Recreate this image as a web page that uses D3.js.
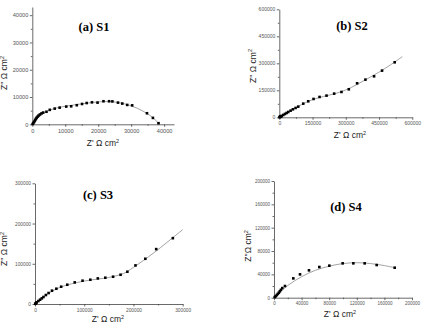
<!DOCTYPE html>
<html>
<head>
<meta charset="utf-8">
<script src="https://cdn.jsdelivr.net/npm/d3@7"></script>
<style>
  body { margin: 0; background: #fff; }
  svg { display: block; }
  .domain, .tick line { stroke: #444; stroke-width: 0.8; }
  .tick text { fill: #555; font-family: "Liberation Sans", Arial, sans-serif; }
  .ttl { font-family: "Liberation Serif", "Times New Roman", serif; font-weight: bold; fill: #000; }
  .lab { font-family: "Liberation Sans", Arial, sans-serif; fill: #222; }
</style>
</head>
<body>
<svg id="chart" width="424" height="324"></svg>
<script>
// ---- data ----
// (a) S1
var s1Points = [[100,100],[300,400],[500,800],[700,1200],[900,1600],[1100,2000],[1300,2400],[1600,2800],[1900,3200],[2300,3600],[2800,4000],[3300,4300],
  [4300,4600],[5300,5300],[6800,5750],[8300,6100],[10300,6500],[11800,6600],[13500,7000],[15100,7450],[16500,7800],[18100,8050],[19800,7950],
  [21600,8450],[23300,8450],[24300,8400],[26000,7950],[27300,7600],[28800,7100],[30300,6950],[34800,4050],[36600,2350],[38300,400]];
var s1Fit = [[0,0],[2000,2600],[4000,4500],[7000,5900],[10000,6600],[15000,7500],[20000,8200],[24000,8300],[28000,7500],[32000,5800],[35000,3800],[37000,2000],[38500,0]];
var s1Ticks = [0,10000,20000,30000,40000];

// (b) S2
var s2Points = [[1000,800],[2500,1800],[4000,3000],[5500,4000],[7000,5200],[8500,6300],[10500,7400],[18000,13000],[25500,18500],[33000,24000],
  [40500,29600],[51000,37000],[61500,44400],[73500,51900],[85500,59300],[108000,75900],[130500,88900],[154500,101900],[181500,113000],
  [213000,120400],[247500,131500],[280500,140700],[313500,155600],[351000,188900],[388500,209300],[427500,227800],[463500,259300],[520500,305600]];
var s2Fit = [[0,0],[50000,37000],[100000,70000],[150000,98000],[200000,116000],[250000,131000],[300000,152000],[350000,182000],[400000,216000],[450000,251000],[500000,290000],[555000,337000]];
var s2Ticks = [0,150000,300000,450000,600000];

// (c) S3
var s3Points = [[500,500],[1500,1500],[2500,2800],[3400,4100],[6900,7400],[10300,10700],[13800,14000],[17200,17400],[22100,22300],[27600,27300],
  [34500,33100],[43400,38000],[53100,43000],[65500,47900],[80700,53700],[96600,57900],[112400,60300],[127600,63600],[142800,65300],
  [158600,67800],[173800,72700],[187600,80200],[204100,95900],[224100,112400],[246200,136400],[280000,163600]];
var s3Fit = [[0,0],[20000,20000],[50000,41000],[100000,57000],[150000,66000],[180000,76000],[200000,91000],[240000,126000],[270000,155000],[300000,185000]];
var s3Ticks = [0,100000,200000,300000];

// (d) S4
var s4Points = [[1000,1000],[2500,2500],[4000,4500],[5500,6500],[7000,8500],[8500,11000],[10000,13500],[12000,16500],[15900,20000],
  [28000,33100],[37700,40000],[50700,46900],[65700,52600],[80200,54900],[99500,58900],[115000,58900],[131400,58900],[148800,56000],[174900,51400]];
var s4Fit = [[0,0],[20000,21000],[40000,36000],[60000,47000],[80000,54000],[100000,58500],[120000,60000],[140000,58500],[160000,55000],[175000,51500]];
var s4Ticks = [0,40000,80000,120000,160000,200000];
var s4YTicks = [0,40000,80000,120000,160000,200000];

var panels = [
  {title: "(a) S1", pts: s1Points, fit: s1Fit, xt: s1Ticks, yt: s1Ticks, xd: 43000, yd: 43000,
   xr: [32.3, 174], yr: [124.3, 7], fs: 5.6, tx: 94, ty: 30.5,
   xl: [103, 146], yl: [7, 73], ylab: "Z'' \u03A9 cm"},
  {title: "(b) S2", pts: s2Points, fit: s2Fit, xt: s2Ticks, yt: s2Ticks, xd: 600000, yd: 600000,
   xr: [279.3, 412.3], yr: [117.3, 9.3], fs: 5, tx: 352, ty: 29.5,
   xl: [350, 138], yl: [255.5, 66], ylab: "Z'' \u03A9 cm"},
  {title: "(c) S3", pts: s3Points, fit: s3Fit, xt: s3Ticks, yt: s3Ticks, xd: 300000, yd: 300000,
   xr: [35, 182.7], yr: [304, 183.3], fs: 4.8, tx: 98, ty: 199,
   xl: [108, 322], yl: [7, 249], ylab: "Z'' \u03A9 cm"},
  {title: "(d) S4", pts: s4Points, fit: s4Fit, xt: s4Ticks, yt: s4YTicks, xd: 200000, yd: 200000,
   xr: [274, 412], yr: [297.7, 181], fs: 4.5, tx: 346, ty: 211,
   xl: [340, 317], yl: [251, 246], ylab: "Z''\u03A9 cm"}
];

var svg = d3.select("#chart");

function mids(t) {
  var m = [];
  for (var i = 0; i < t.length - 1; i++) m.push((t[i] + t[i+1]) / 2);
  return m;
}

panels.forEach(function(p) {
  var x = d3.scaleLinear().domain([0, p.xd]).range(p.xr);
  var y = d3.scaleLinear().domain([0, p.yd]).range(p.yr);
  var g = svg.append("g");

  // minor ticks
  g.append("g").attr("transform", "translate(0," + p.yr[0] + ")")
    .call(d3.axisBottom(x).tickValues(mids(p.xt)).tickSize(1.5).tickFormat(""))
    .call(function(a) { a.select(".domain").remove(); });
  g.append("g").attr("transform", "translate(" + p.xr[0] + ",0)")
    .call(d3.axisLeft(y).tickValues(mids(p.yt)).tickSize(1.5).tickFormat(""))
    .call(function(a) { a.select(".domain").remove(); });

  // major axes
  g.append("g").attr("transform", "translate(0," + p.yr[0] + ")")
    .call(d3.axisBottom(x).tickValues(p.xt).tickSize(2.5).tickSizeOuter(0).tickPadding(2).tickFormat(d3.format("d")))
    .selectAll("text").style("font-size", p.fs + "px");
  g.append("g").attr("transform", "translate(" + p.xr[0] + ",0)")
    .call(d3.axisLeft(y).tickValues(p.yt).tickSize(2.5).tickSizeOuter(0).tickPadding(1.5).tickFormat(d3.format("d")))
    .selectAll("text").style("font-size", p.fs + "px");

  // fitted curve
  g.append("path")
    .datum(p.fit)
    .attr("fill", "none")
    .attr("stroke", "#8a8a8a")
    .attr("stroke-width", 0.8)
    .attr("d", d3.line().x(function(d) { return x(d[0]); }).y(function(d) { return y(d[1]); }).curve(d3.curveCatmullRom));

  // measured points
  g.selectAll("rect.pt").data(p.pts).enter().append("rect")
    .attr("class", "pt")
    .attr("x", function(d) { return x(d[0]) - 1.3; })
    .attr("y", function(d) { return y(d[1]) - 1.3; })
    .attr("width", 2.6).attr("height", 2.6)
    .attr("fill", "#000");

  // panel title
  g.append("text").attr("class", "ttl")
    .attr("x", p.tx).attr("y", p.ty)
    .attr("text-anchor", "middle")
    .style("font-size", "12.5px")
    .text(p.title);

  // axis titles
  var xt = g.append("text").attr("class", "lab")
    .attr("x", p.xl[0]).attr("y", p.xl[1])
    .attr("text-anchor", "middle")
    .style("font-size", "8.5px")
    .text("Z' \u03A9 cm");
  xt.append("tspan").attr("dy", -3.5).style("font-size", "5.5px").text("2");

  var yt = g.append("text").attr("class", "lab")
    .attr("transform", "translate(" + p.yl[0] + "," + p.yl[1] + ") rotate(-90)")
    .attr("text-anchor", "middle")
    .style("font-size", "8.5px")
    .text(p.ylab);
  yt.append("tspan").attr("dy", -3.5).style("font-size", "5.5px").text("2");
});
</script>
</body>
</html>
